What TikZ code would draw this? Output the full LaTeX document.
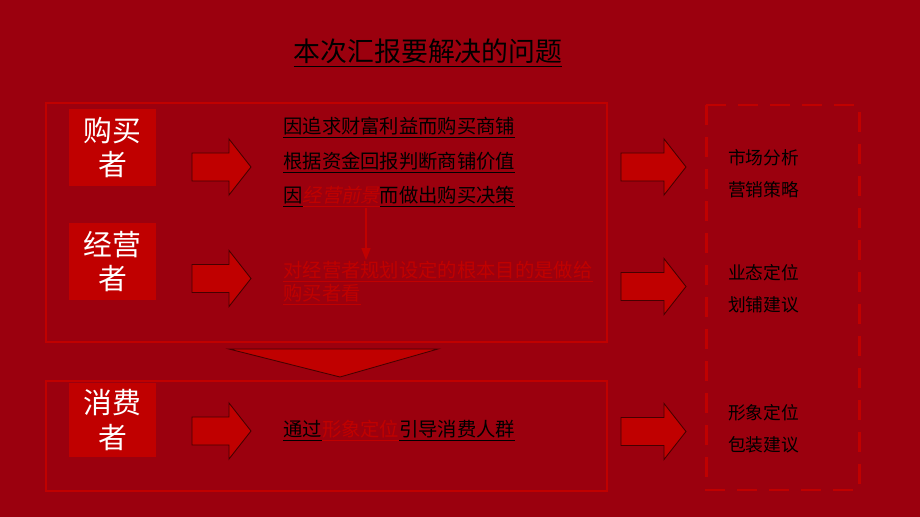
\documentclass[tikz,border=0pt]{standalone}
\usepackage{fontspec}
\setmainfont{Noto Sans CJK SC}
\newfontfamily\slantcjk{Noto Sans CJK SC}[FakeSlant=0.2]
\usetikzlibrary{arrows.meta, positioning}
\definecolor{bgred}{RGB}{155,0,14}
\definecolor{boxred}{RGB}{192,0,0}
\definecolor{edgered}{RGB}{70,0,0}
\tikzset{Report/.style={
    x = 0.02cm, y = -0.02cm,
    frame/.style = {draw=boxred, line width=1.7pt},
    role/.style = {fill=boxred, text=white, minimum width=1.74cm, minimum height=1.54cm, align=center, inner sep=0pt, font=\fontsize{16.4}{19.8}\selectfont},
    point/.style = {anchor=west, inner sep=0pt, font=\fontsize{11}{11.9}\selectfont},
    result/.style = {align=left, inner sep=0pt, font=\fontsize{10.1}{18.1}\selectfont},
    blockarrow/.style = {fill=boxred, draw=edgered, line width=0.5pt}
}}
% block arrow: left end, centre line, length
\newcommand{\rightblock}[3]{%
    \draw[blockarrow] (#1,#2-14) -- ++(#3-22,0) -- ++(0,-14) -- ++(22,28) -- ++(-22,28) -- ++(0,-14) -- ++(-#3+22,0) -- cycle;}

\begin{document}
\begin{tikzpicture}[Report]
        \fill[bgred] (0,0) rectangle (920,517);
        \useasboundingbox (0,0) rectangle (920,517);

        \node [font=\fontsize{15.3}{18}\selectfont] (title) at (428,53) {\underline{本次汇报要解决的问题}};

        % upper block
        \draw [frame] (46,103) rectangle (607,342);
        \node [role] (buyer) at (112.5,147.5) {购买\\者};
        \node [role] (owner) at (112.5,261.5) {经营\\者};
        \rightblock{192}{167}{59}
        \rightblock{192}{278.5}{59}

        \node [point] (p1) at (283,128) {\underline{因追求财富利益而购买商铺}};
        \node [point] (p2) at (283,163) {\underline{根据资金回报判断商铺价值}};
        \node [point] (p3) at (283,197) {\underline{因}{\color{boxred}\slantcjk\underline{经营前景}}\underline{而做出购买决策}};
        \node [point, text=boxred, align=left] (aim) at (283,283) {\underline{对经营者规划设定的根本目的是做给}\\\underline{购买者看}};

        \coordinate (hint) at (366,0);
        \draw [boxred, line width=1.1pt, -{Triangle[length=7pt, width=5pt]}] (p3.south -| hint) -- (aim.north -| hint);

        % down arrow
        \draw [blockarrow] (229,349) -- (438,349) -- (340,377) -- cycle;

        % lower block
        \draw [frame] (46,381) rectangle (607,491);
        \node [role, minimum height=1.48cm] (consumer) at (112.5,420) {消费\\者};
        \rightblock{192}{431}{59}
        \node [point] (p4) at (283,431) {\underline{通过}{\color{boxred}\underline{形象定位}}\underline{引导消费人群}};

        % results
        \draw [boxred, line width=1.7pt, dash pattern=on 0.4cm off 0.24cm] (706,105) rectangle (859,490);
        \rightblock{621}{167}{65}
        \rightblock{621}{286.5}{65}
        \rightblock{621}{431.5}{65}
        \node [result] (r1) at (763.5,174) {市场分析\\营销策略};
        \node [result] (r2) at (763.5,288.5) {业态定位\\划铺建议};
        \node [result] (r3) at (763.5,428.5) {形象定位\\包装建议};
    \end{tikzpicture}
\end{document}
